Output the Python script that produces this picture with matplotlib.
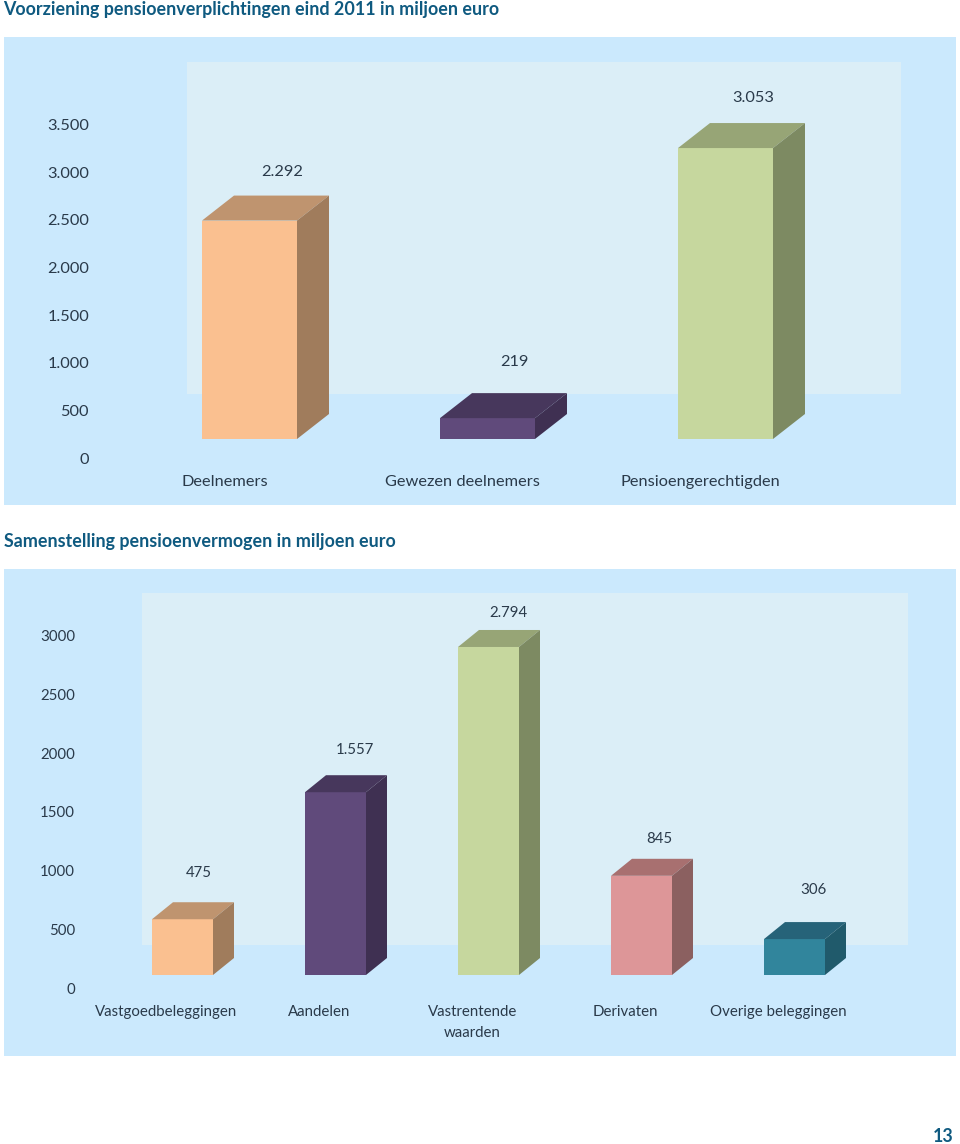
import matplotlib
matplotlib.use("Agg")
import matplotlib.pyplot as plt
from matplotlib.patches import Rectangle
from matplotlib.transforms import ScaledTranslation

plt.rcParams["font.family"] = ["Lato", "DejaVu Sans"]

W, H = 960, 1144
DPI = 100

# ── Data ──────────────────────────────────────────────────────
cats_top = ["Deelnemers", "Gewezen deelnemers", "Pensioengerechtigden"]
vals_top = [2292, 219, 3053]
ticks_top = [0, 500, 1000, 1500, 2000, 2500, 3000, 3500]
ticklabels_top = ["0", "500", "1.000", "1.500", "2.000", "2.500", "3.000", "3.500"]

cats_bot = ["Vastgoedbeleggingen", "Aandelen", "Vastrentende\nwaarden", "Derivaten",
            "Overige beleggingen"]
vals_bot = [475, 1557, 2794, 845, 306]
ticks_bot = [0, 500, 1000, 1500, 2000, 2500, 3000]
ticklabels_bot = ["0", "500", "1000", "1500", "2000", "2500", "3000"]

# ── Colours: front, top, side ─────────────────────────────────
PEACH = ("#fac090", "#bf946f", "#a07c5c")
PURPLE = ("#604a7b", "#47375c", "#3f3052")
GREEN = ("#c6d79e", "#97a576", "#7d8a62")
PINK = ("#dd9698", "#a87070", "#8b6060")
TEAL = ("#31859c", "#266379", "#205a6b")

PANEL = "#cbe9fd"
INNER = "#dbeef7"
TXT = "#2a3a4a"
HEAD = "#0f5a80"

fig = plt.figure(figsize=(W / DPI, H / DPI), dpi=DPI)


def panel(cats, vals, ticks, ticklabels, colors, box, inner, x0, step, width, base, scale,
          depth, tick_shift, cat_shift, val_shift, fs):
    left, top, right, bottom = box
    ax = fig.add_axes([left / W, 1 - bottom / H, (right - left) / W, (bottom - top) / H])
    ax.set_facecolor(PANEL)
    # pixel layout -> data limits
    cx = x0 + width / 2
    ax.set_xlim((left - cx) / step, (right - cx) / step)
    ax.set_ylim((base - bottom) / scale, (base - top) / scale)
    for s in ax.spines.values():
        s.set_visible(False)

    il, it, ir, ib = inner
    ax.add_patch(Rectangle(((il - left) / (right - left), (bottom - ib) / (bottom - top)),
                           (ir - il) / (right - left), (ib - it) / (bottom - top),
                           transform=ax.transAxes, facecolor=INNER, edgecolor="none", zorder=1))

    w = width / step
    dx = depth[0] / step
    dy = depth[1] / scale
    xs = list(range(len(vals)))
    for x, v, c in zip(xs, vals, colors):
        ax.bar(x, v, width=w, color=c[0], zorder=3)
        x1, x2 = x - w / 2, x + w / 2
        ax.fill([x1, x1 + dx, x2 + dx, x2], [v, v + dy, v + dy, v], color=c[1], lw=0, zorder=3)
        ax.fill([x2, x2 + dx, x2 + dx, x2], [0, dy, v + dy, v], color=c[2], lw=0, zorder=3)

    for x, v, (ox, oy) in zip(xs, vals, val_shift):
        ax.annotate(f"{v:,}".replace(",", "."), xy=(x, v), xytext=(ox, oy),
                    textcoords="offset pixels", ha="center", va="center",
                    fontsize=fs, color=TXT, zorder=4)

    ax.set_yticks(ticks)
    ax.set_yticklabels(ticklabels, fontsize=fs, color=TXT)
    ax.set_xticks(xs)
    ax.set_xticklabels(cats, fontsize=fs, color=TXT, linespacing=1.6)
    ax.tick_params(length=0, pad=0)
    # labels sit inside the panel, shifted off the bars like in the 3D original
    off_y = ScaledTranslation(tick_shift[0] / DPI, tick_shift[1] / DPI, fig.dpi_scale_trans)
    for t in ax.get_yticklabels():
        t.set_transform(t.get_transform() + off_y)
    off_x = ScaledTranslation(cat_shift[0] / DPI, cat_shift[1] / DPI, fig.dpi_scale_trans)
    for t in ax.get_xticklabels():
        t.set_transform(t.get_transform() + off_x)
    return ax


panel(cats_top, vals_top, ticks_top, ticklabels_top, [PEACH, PURPLE, GREEN],
      box=(4, 37, 956, 505), inner=(187, 62, 901, 394), x0=202, step=238, width=95,
      base=439, scale=0.0953, depth=(32, 25), tick_shift=(85, -19), cat_shift=(-25, 30),
      val_shift=[(33, 49), (27, 56), (28, 50)], fs=11.8)

panel(cats_bot, vals_bot, ticks_bot, ticklabels_bot, [PEACH, PURPLE, GREEN, PINK, TEAL],
      box=(4, 569, 956, 1056), inner=(142, 593, 908, 945), x0=152, step=153, width=61,
      base=975, scale=0.1174, depth=(21, 17), tick_shift=(71, -13), cat_shift=(-16, 51),
      val_shift=[(16, 46), (19, 42), (20, 34), (18, 37), (19, 49)], fs=10.8)

fig.text(3.5 / W, 1 - 9.5 / H, "Voorziening pensioenverplichtingen eind 2011 in miljoen euro",
         fontsize=12.9, fontweight="bold", color=HEAD, va="center")
fig.text(3.5 / W, 1 - 541 / H, "Samenstelling pensioenvermogen in miljoen euro",
         fontsize=12.9, fontweight="bold", color=HEAD, va="center")
fig.text(954 / W, 1 - 1136 / H, "13", fontsize=12.9, fontweight="bold", color=HEAD,
         ha="right", va="center")

fig.savefig("out.png", dpi=DPI)
plt.close()
